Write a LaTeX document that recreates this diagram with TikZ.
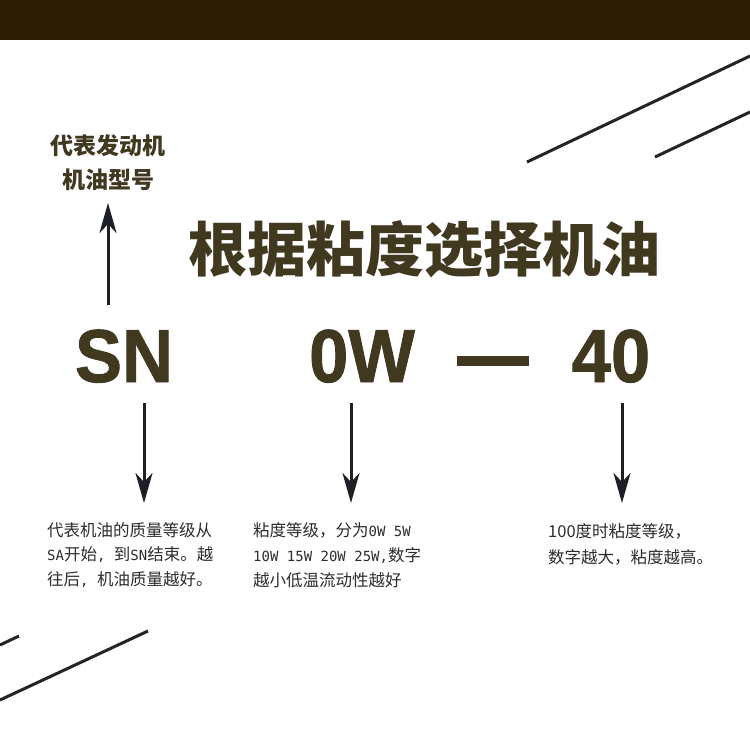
\documentclass[tikz,border=0pt]{standalone}
\usepackage{fontspec}
\usetikzlibrary{arrows.meta}
\newfontfamily\cjk{Noto Sans CJK SC}
\newfontfamily\numfont{Liberation Sans}[BoldFeatures={FakeBold=1.2}]
\newfontfamily\latmono{DejaVu Sans Mono}
\newcommand{\lat}[1]{{\latmono\fontsize{14}{14}\selectfont #1}}
\definecolor{barbrown}{RGB}{44,28,3}
\definecolor{titlebrown}{RGB}{64,56,31}
\definecolor{arrowdark}{RGB}{28,31,36}
\definecolor{bodytext}{RGB}{45,45,45}
\definecolor{linedark}{RGB}{34,36,38}
\tikzset{
  titletext/.style={inner sep=0pt, text=titlebrown, font={\cjk\bfseries\fontsize{59}{59}\selectfont}},
  labeltext/.style={inner sep=0pt, text=titlebrown, font={\cjk\bfseries\fontsize{23}{23}\selectfont}},
  codetext/.style={inner sep=0pt, text=titlebrown, xscale=0.94, font={\numfont\bfseries\fontsize{75}{75}\selectfont}},
  bodyline/.style={inner sep=0pt, anchor=west, text=bodytext, font={\cjk\fontsize{16.5}{16.5}\selectfont}},
  arr/.style={draw=arrowdark, line width=3pt, -{Stealth[length=30pt,width=17pt,inset=9pt]}},
  deco/.style={draw=linedark, line width=3pt}
}
\begin{document}
\begin{tikzpicture}[x=1pt,y=-1pt]
\useasboundingbox (0,0) rectangle (750,731);
\fill[white] (0,0) rectangle (750,731);
% top bar
\fill[barbrown] (0,0) rectangle (750,40);
% decorative diagonals
\draw[deco] (527,162) -- (750,56);
\draw[deco] (655,157) -- (750,112);
\draw[deco] (0,645) -- (19,636);
\draw[deco] (0,700) -- (148,631);
% title
\node[titletext] (title) at (424,249) {根据粘度选择机油};
% top-left label
\node[labeltext] (lab1) at (108,146) {代表发动机};
\node[labeltext] (lab2) at (108,180) {机油型号};
% codes
\node[codetext, anchor=base] (sn) at (124,382) {SN};
\node[codetext, anchor=base] (ow) at (362,382) {0W};
\node[codetext, anchor=base] (forty) at (611,382) {40};
\fill[titlebrown] (457,356) rectangle (529,366);
% arrows
\coordinate (upA) at (108,305);
\coordinate (upB) at (108,203);
\draw[arr] (upA) -- (upB);
\coordinate (snA) at (144,403);
\coordinate (snB) at (144,503);
\draw[arr] (snA) -- (snB);
\coordinate (owA) at (351,403);
\coordinate (owB) at (351,503);
\draw[arr] (owA) -- (owB);
\coordinate (foA) at (622,403);
\coordinate (foB) at (622,503);
\draw[arr] (foA) -- (foB);
% descriptions
\node[bodyline] (c1a) at (47,530) {代表机油的质量等级从};
\node[bodyline] (c1b) at (47,555) {\lat{SA}开始\lat{, }到\lat{SN}结束。越};
\node[bodyline] (c1c) at (47,580) {往后\lat{, }机油质量越好。};
\node[bodyline] (c2a) at (253,530) {粘度等级，分为\lat{0W 5W}};
\node[bodyline] (c2b) at (253,555) {\lat{10W 15W 20W 25W,}数字};
\node[bodyline] (c2c) at (253,580) {越小低温流动性越好};
\node[bodyline] (c3a) at (548,531) {100度时粘度等级，};
\node[bodyline] (c3b) at (548,557) {数字越大，粘度越高。};
\end{tikzpicture}
\end{document}
